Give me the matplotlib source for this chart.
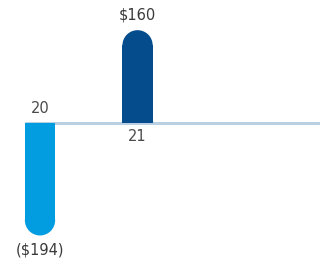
import matplotlib.pyplot as plt
from matplotlib.patches import Ellipse

years = ["20", "21"]
values = [-194, 160]
value_labels = ["($194)", "$160"]
colors = ["#019de0", "#044c8c"]

fig = plt.figure(figsize=(3.2, 2.61), dpi=100)
ax = fig.add_axes([0, 0, 1, 1])
ax.set_xlim(-0.41, 2.87)
ax.set_ylim(-238, 212)
ax.axis("off")

width = 0.31
x = list(range(len(values)))

# pixel -> data scale so the round caps come out circular
fig.canvas.draw()
bbox = ax.get_window_extent()
y_per_px = (212 - -238) / bbox.height
x_per_px = (2.87 - -0.41) / bbox.width
r_px = width / x_per_px / 2
r_y = r_px * y_per_px

# baseline
ax.plot([x[0] - width / 2, 2.87], [0, 0], color="#b9d0e2", lw=2.2, zorder=1,
        solid_capstyle="butt")

for xi, v, c, lab, yr in zip(x, values, colors, value_labels, years):
    sign = 1 if v > 0 else -1
    ax.bar(xi, v - sign * r_y, width=width, color=c, zorder=2, linewidth=0)
    ax.add_patch(Ellipse((xi, v - sign * r_y), width, 2 * r_y, color=c,
                         zorder=2, linewidth=0))
    ax.annotate(lab, (xi, v), xytext=(0, 15 * sign), textcoords="offset pixels",
                ha="center", va="center", fontsize=10.5, color="#3a3a3a",
                family="DejaVu Sans")
    ax.annotate(yr, (xi, 0), xytext=(0, -14 * sign), textcoords="offset pixels",
                ha="center", va="center", fontsize=10.5, color="#4a4a4a",
                family="DejaVu Sans")

fig.savefig("out.png", dpi=100)
